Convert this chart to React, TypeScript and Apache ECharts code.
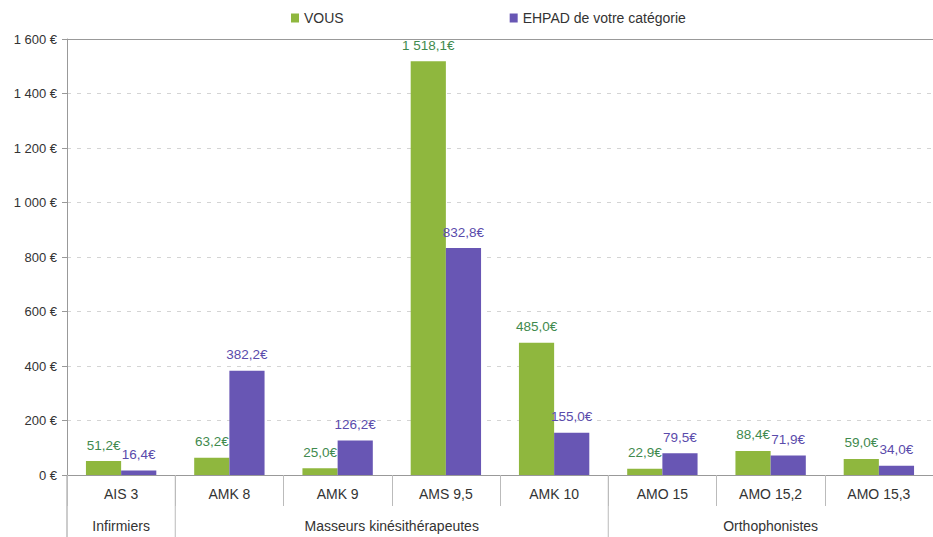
import React, { useEffect, useRef } from "react";
import * as echarts from "echarts";

const categories = ["AIS 3", "AMK 8", "AMK 9", "AMS 9,5", "AMK 10", "AMO 15", "AMO 15,2", "AMO 15,3"];
const vous = [51.2, 63.2, 25.0, 1518.1, 485.0, 22.9, 88.4, 59.0];
const ehpad = [16.4, 382.2, 126.2, 832.8, 155.0, 79.5, 71.9, 34.0];
const groupNames = ["Infirmiers", "Masseurs kinésithérapeutes", "Orthophonistes"];
const groupStarts = [0, 1, 5];
const groupEnds = [0, 4, 7];
const seriesNames = ["VOUS", "EHPAD de votre catégorie"];
const yTicks = [0, 200, 400, 600, 800, 1000, 1200, 1400, 1600];

const GREEN = "#8fb73e";
const PURPLE = "#6856b4";
const GREEN_TXT = "#3f8a4e";
const PURPLE_TXT = "#5a4bab";
const FONT = "Liberation Sans, Arial, sans-serif";

function thousands(intPart: string) {
  return intPart.replace(/\B(?=(\d{3})+(?!\d))/g, " ");
}
function fmtVal(v: number) {
  const [i, d] = v.toFixed(1).split(".");
  return thousands(i) + "," + d + "€";
}
function fmtAxis(v: number) {
  return thousands(String(Math.round(v))) + " €";
}

export default function App() {
  const ref = useRef<HTMLDivElement>(null);
  useEffect(() => {
    if (!ref.current) return;
    const chart = echarts.init(ref.current, null, { renderer: "svg" });
    const H = 537;
    chart.setOption({
      animation: false,
      textStyle: { fontFamily: FONT },
      legend: {
        top: 6,
        left: 286,
        itemGap: 166,
        itemWidth: 8,
        itemHeight: 9,
        icon: "rect",
        textStyle: { fontFamily: FONT, fontSize: 14, color: "#333" },
        data: seriesNames,
      },
      grid: { left: 67, right: -9, top: 39, bottom: 62, containLabel: false },
      xAxis: [
        {
          type: "category",
          data: categories,
          axisLine: { show: true, lineStyle: { color: "#999", width: 1 } },
          axisTick: { show: true, interval: 0, length: 31, lineStyle: { color: "#bbb" } },
          axisLabel: { interval: 0, margin: 12, fontSize: 14, color: "#333", fontFamily: FONT },
        },
        {
          type: "category",
          data: categories,
          position: "top",
          axisLine: { show: true, lineStyle: { color: "#999", width: 1 } },
          axisTick: { show: false },
          axisLabel: { show: false },
        },
      ],
      yAxis: {
        type: "value",
        min: 0,
        max: yTicks[yTicks.length - 1],
        interval: 200,
        axisLine: { show: true, lineStyle: { color: "#999" } },
        axisTick: { show: true, length: 5, lineStyle: { color: "#999" } },
        axisLabel: {
          formatter: (v: number) => fmtAxis(v),
          fontSize: 13,
          color: "#333",
          margin: 10,
          fontFamily: FONT,
        },
        splitLine: { show: true, lineStyle: { color: "#d4d4d4", type: [4, 6], width: 1 } },
      },
      series: [
        {
          name: seriesNames[0],
          type: "bar",
          data: vous,
          barGap: "0%",
          barCategoryGap: "35%",
          itemStyle: { color: GREEN },
          label: {
            show: true,
            position: "top",
            distance: 9,
            formatter: (p: any) => fmtVal(p.value),
            color: GREEN_TXT,
            fontSize: 13.5,
            fontFamily: FONT,
          },
        },
        {
          name: seriesNames[1],
          type: "bar",
          data: ehpad,
          barGap: "0%",
          barCategoryGap: "35%",
          itemStyle: { color: PURPLE },
          label: {
            show: true,
            position: "top",
            distance: 9,
            formatter: (p: any) => fmtVal(p.value),
            color: PURPLE_TXT,
            fontSize: 13.5,
            fontFamily: FONT,
          },
        },
      ],
    });

    const cx = (i: number) => chart.convertToPixel({ xAxisIndex: 0 }, categories[i]) as number;
    const w = cx(1) - cx(0);
    const y0 = chart.convertToPixel({ yAxisIndex: 0 }, 0) as number;
    const graphics: any[] = [];
    graphics.push({
      type: "line",
      shape: { x1: cx(0) - w / 2, y1: y0, x2: cx(0) - w / 2, y2: H },
      style: { stroke: "#999", lineWidth: 1 },
    });
    groupNames.forEach((name, g) => {
      const s = groupStarts[g];
      const e = groupEnds[g];
      if (s > 0) {
        const bx = cx(s) - w / 2;
        graphics.push({
          type: "line",
          shape: { x1: bx, y1: y0, x2: bx, y2: H },
          style: { stroke: "#bbb", lineWidth: 1 },
        });
      }
      graphics.push({
        type: "text",
        x: (cx(s) + cx(e)) / 2,
        y: 526,
        style: {
          text: name,
          fill: "#333",
          font: `14px ${FONT}`,
          align: "center",
          verticalAlign: "middle",
        },
      });
    });
    chart.setOption({ graphic: graphics });

    return () => chart.dispose();
  }, []);
  return (
    <div
      ref={ref}
      style={{ position: "fixed", left: 0, top: 0, width: 933, height: 537, background: "#fff" }}
    />
  );
}
